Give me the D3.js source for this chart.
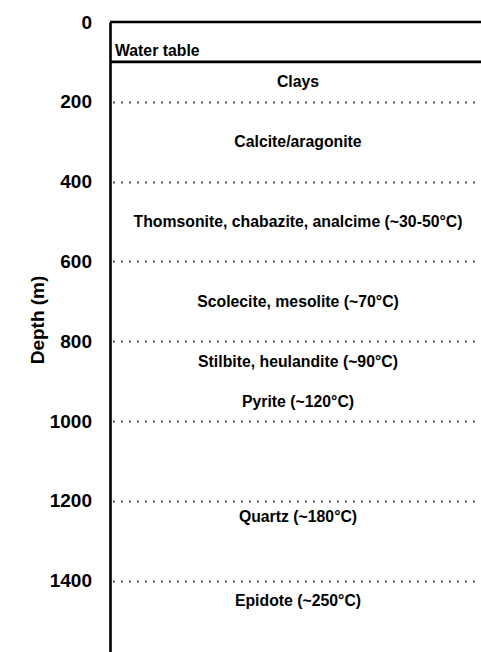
<!DOCTYPE html>
<html>
<head>
<meta charset="utf-8">
<script src="https://cdn.jsdelivr.net/npm/d3@7"></script>
<style>
  html, body { margin: 0; padding: 0; background: #fff; }
  svg { display: block; }
  text { font-family: Arial, "Liberation Sans", Helvetica, sans-serif; font-weight: bold; fill: #000; }
</style>
</head>
<body>
<svg id="chart" width="481" height="652"></svg>
<script>
// ---- data ----
const depthTicks = [0, 200, 400, 600, 800, 1000, 1200, 1400];
const gridDepths = [200, 400, 600, 800, 1000, 1200, 1400];
const waterTableDepth = 100;
const waterTableLabel = "Water table";
const mineralLabels = [
  "Clays",
  "Calcite/aragonite",
  "Thomsonite, chabazite, analcime (~30-50°C)",
  "Scolecite, mesolite (~70°C)",
  "Stilbite, heulandite (~90°C)",
  "Pyrite (~120°C)",
  "Quartz (~180°C)",
  "Epidote (~250°C)"
];
const mineralDepths = [150, 300, 500, 700, 850, 950, 1240, 1450];
const yTitle = "Depth (m)";

// ---- layout ----
const svg = d3.select("#chart");
const plotLeft = 110, plotRight = 486, plotTop = 22;
const y = d3.scaleLinear().domain([0, 1600]).range([plotTop, plotTop + 1600 * 0.399]);
const xCenter = (plotLeft + plotRight) / 2;

// dotted grid lines
svg.append("g")
  .selectAll("line")
  .data(gridDepths)
  .join("line")
  .attr("x1", plotLeft + 3)
  .attr("x2", plotRight)
  .attr("y1", d => Math.round(y(d)) + 0.5)
  .attr("y2", d => Math.round(y(d)) + 0.5)
  .attr("stroke", "#555")
  .attr("stroke-width", 2)
  .attr("stroke-dasharray", "2,6");

// top (surface) line and water table line
svg.append("g")
  .selectAll("line")
  .data([0, waterTableDepth])
  .join("line")
  .attr("x1", plotLeft)
  .attr("x2", plotRight)
  .attr("y1", d => y(d))
  .attr("y2", d => y(d))
  .attr("stroke", "#000")
  .attr("stroke-width", 2.6);

// left axis
const axis = d3.axisLeft(y)
  .tickValues(depthTicks)
  .tickSize(0)
  .tickPadding(18)
  .tickFormat(d3.format("d"));
const gAxis = svg.append("g")
  .attr("transform", `translate(${plotLeft},0)`)
  .call(axis);
gAxis.select(".domain").attr("stroke", "#000").attr("stroke-width", 2.6);
gAxis.selectAll(".tick text")
  .attr("font-size", 19)
  .attr("font-family", "Arial, 'Liberation Sans', sans-serif")
  .attr("font-weight", "bold")
  .attr("fill", "#000");

// y title
svg.append("text")
  .attr("transform", `translate(44,${320}) rotate(-90)`)
  .attr("text-anchor", "middle")
  .attr("font-size", 19)
  .text(yTitle);

// water table label
svg.append("text")
  .attr("x", plotLeft + 5)
  .attr("y", y(72))
  .attr("dy", "0.35em")
  .attr("font-size", 15.8)
  .text(waterTableLabel);

// mineral labels
svg.append("g")
  .selectAll("text")
  .data(mineralLabels)
  .join("text")
  .attr("x", xCenter)
  .attr("y", (d, i) => y(mineralDepths[i]))
  .attr("dy", "0.35em")
  .attr("text-anchor", "middle")
  .attr("font-size", 15.8)
  .text(d => d);
</script>
</body>
</html>
